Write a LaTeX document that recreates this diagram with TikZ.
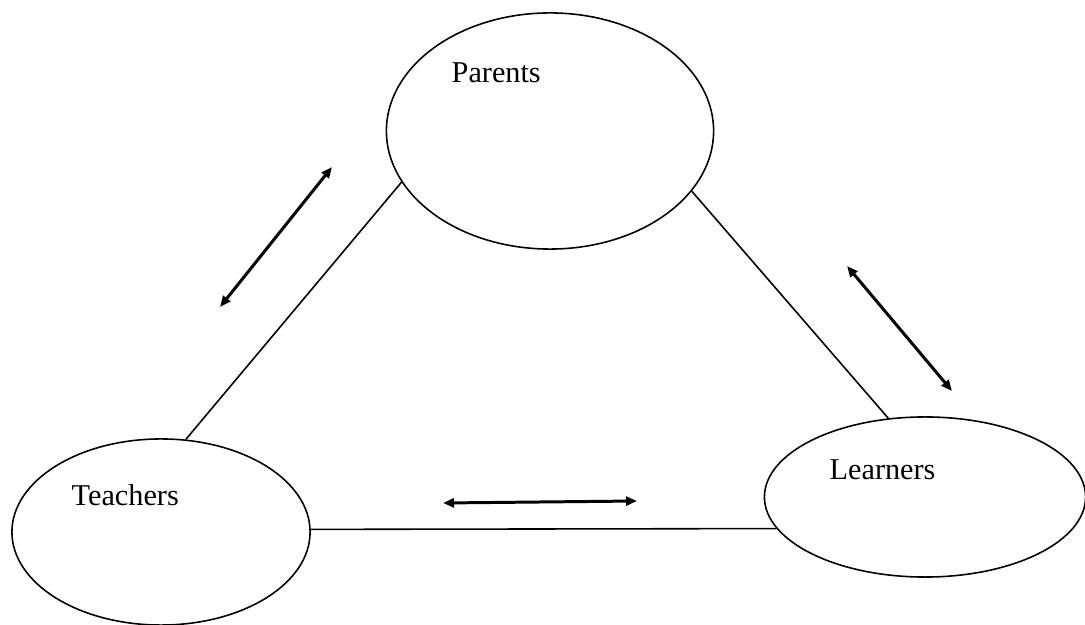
\documentclass[tikz,border=0pt]{standalone}
\usepackage{fontspec}
\setmainfont{Liberation Serif}
\usetikzlibrary{shapes.geometric,arrows.meta}
\begin{document}
\begin{tikzpicture}[x=0.01cm,y=-0.01cm,
  bubble/.style={ellipse,draw,line width=0.45pt,inner sep=0pt},
  lbl/.style={anchor=base west,inner sep=0pt,font=\fontsize{8.6}{10}\selectfont},
  link/.style={line width=0.45pt},
  dbl/.style={line width=0.85pt,{Triangle[length=0.11cm,width=0.09cm]}-{Triangle[length=0.11cm,width=0.09cm]}}]
\useasboundingbox (0,0) rectangle (1085,625);
\node[bubble,minimum width=3.27cm,minimum height=2.36cm] (P) at (550,131) {};
\node[bubble,minimum width=2.98cm,minimum height=1.86cm] (T) at (161,532) {};
\node[bubble,minimum width=3.21cm,minimum height=1.60cm] (L) at (925,497) {};
\node[lbl] (pt) at (451,83) {Parents};
\node[lbl] (tt) at (71,506) {Teachers};
\node[lbl] (lt) at (829,480) {Learners};
\draw[link] (P.199.5) -- (T.75.4);
\draw[link] (P.337.6) -- (L.115.4);
\draw[link] (T.1.0) -- (L.192.0);
\coordinate (a1) at (332,167);
\coordinate (a2) at (220,307);
\coordinate (b1) at (847,266);
\coordinate (b2) at (952,391);
\coordinate (c1) at (443,503);
\coordinate (c2) at (637,501);
\draw[dbl] (a2) -- (a1);
\draw[dbl] (b1) -- (b2);
\draw[dbl] (c1) -- (c2);
\end{tikzpicture}
\end{document}
